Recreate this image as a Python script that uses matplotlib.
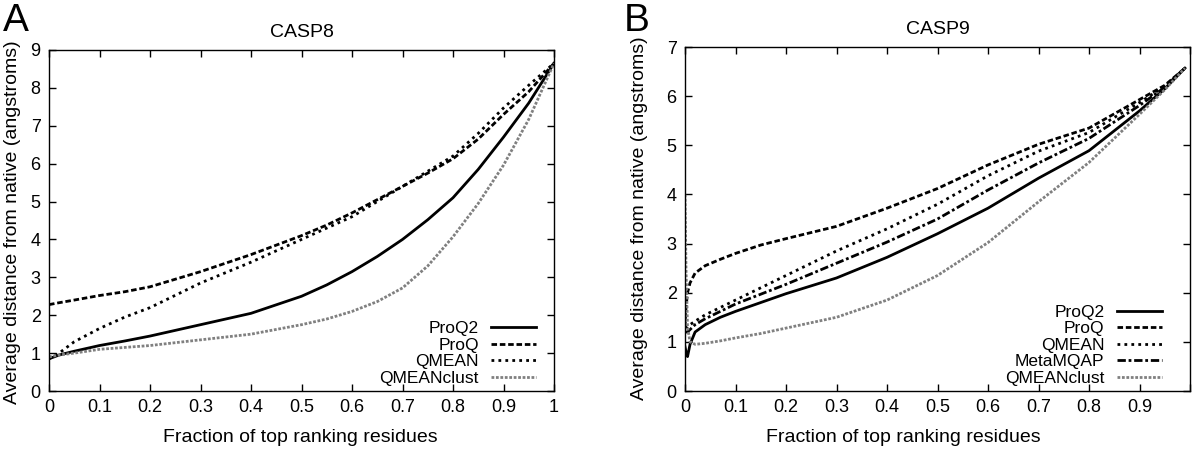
import matplotlib
matplotlib.use("Agg")
import matplotlib.pyplot as plt

plt.rcParams['font.family'] = ['Liberation Sans', 'DejaVu Sans']

# ---------------- Data: panel A (CASP8) ----------------
xa = [0, 0.02, 0.05, 0.1, 0.15, 0.2, 0.3, 0.4, 0.5, 0.55, 0.6, 0.65, 0.7, 0.75, 0.8, 0.85, 0.9, 0.95, 1.0]
a_proq2 = [0.85, 0.95, 1.05, 1.2, 1.32, 1.45, 1.75, 2.05, 2.5, 2.8, 3.15, 3.55, 4.0, 4.52, 5.1, 5.85, 6.7, 7.6, 8.65]
a_proq = [2.28, 2.33, 2.4, 2.52, 2.62, 2.75, 3.15, 3.6, 4.1, 4.38, 4.7, 5.05, 5.4, 5.75, 6.13, 6.65, 7.3, 7.9, 8.65]
a_qmean = [0.85, 1.0, 1.3, 1.65, 1.95, 2.2, 2.85, 3.4, 4.0, 4.3, 4.6, 5.0, 5.4, 5.8, 6.2, 6.8, 7.47, 8.07, 8.65]
a_qclust = [0.9, 0.95, 1.0, 1.1, 1.15, 1.2, 1.35, 1.5, 1.75, 1.9, 2.1, 2.36, 2.72, 3.3, 4.07, 4.95, 5.96, 7.17, 8.65]

# ---------------- Data: panel B (CASP9) ----------------
xb = [0, 0.002, 0.005, 0.01, 0.02, 0.04, 0.07, 0.1, 0.15, 0.2, 0.3, 0.4, 0.5, 0.6, 0.7, 0.8, 0.9, 0.95, 0.99]
b_proq2 = [0.9, 0.8, 0.7, 0.95, 1.2, 1.35, 1.5, 1.62, 1.8, 1.98, 2.3, 2.72, 3.2, 3.72, 4.33, 4.89, 5.70, 6.15, 6.57]
b_proq = [1.3, 1.7, 2.0, 2.2, 2.4, 2.55, 2.68, 2.8, 2.97, 3.1, 3.35, 3.72, 4.12, 4.6, 5.02, 5.35, 5.93, 6.22, 6.57]
b_qmean = [1.3, 1.3, 1.3, 1.35, 1.42, 1.55, 1.7, 1.85, 2.1, 2.35, 2.85, 3.3, 3.8, 4.38, 4.88, 5.26, 5.87, 6.2, 6.57]
b_metamqap = [1.2, 1.2, 1.2, 1.25, 1.35, 1.47, 1.62, 1.77, 1.97, 2.17, 2.6, 3.03, 3.5, 4.09, 4.64, 5.14, 5.81, 6.18, 6.57]
b_qclust = [4.0, 2.5, 1.3, 1.0, 0.95, 0.97, 1.02, 1.08, 1.17, 1.28, 1.5, 1.85, 2.35, 3.02, 3.85, 4.65, 5.63, 6.13, 6.57]

xticks = [0, 0.1, 0.2, 0.3, 0.4, 0.5, 0.6, 0.7, 0.8, 0.9, 1.0]
xticklabels_a = ['0', '0.1', '0.2', '0.3', '0.4', '0.5', '0.6', '0.7', '0.8', '0.9', '1']
xticklabels_b = ['0', '0.1', '0.2', '0.3', '0.4', '0.5', '0.6', '0.7', '0.8', '0.9', '']

styles = {
    'ProQ2': dict(color='black', lw=2.0, linestyle='-'),
    'ProQ': dict(color='black', lw=2.0, linestyle=(0, (2.0, 1.0))),
    'QMEAN': dict(color='black', lw=2.0, linestyle=(0, (1.0, 1.5))),
    'MetaMQAP': dict(color='black', lw=2.0, linestyle=(0, (3.0, 1.0, 1.0, 1.0))),
    'QMEANclust': dict(color='#808080', lw=2.0, linestyle=(0, (1.0, 0.6))),
}

fig = plt.figure(figsize=(12.0, 4.49), dpi=100)
axA = fig.add_axes([49/1200, 1-391/449, (554-49)/1200, (391-50)/449])
axB = fig.add_axes([685/1200, 1-391/449, (1190-685)/1200, (391-47)/449])

FS = 13
LFS = 14


def style_axes(ax):
    for s in ax.spines.values():
        s.set_linewidth(1.0)
        s.set_color('black')
    ax.tick_params(direction='in', length=5, width=1, top=True, right=True,
                   labelsize=FS, pad=6)


axA.plot(xa, a_proq2, label='ProQ2', **styles['ProQ2'])
axA.plot(xa, a_proq, label='ProQ', **styles['ProQ'])
axA.plot(xa, a_qmean, label='QMEAN', **styles['QMEAN'])
axA.plot(xa, a_qclust, label='QMEANclust', **styles['QMEANclust'])
axA.set_xlim(0, 1)
axA.set_ylim(0, 9)
axA.set_xticks(xticks)
axA.set_xticklabels(xticklabels_a)
axA.set_yticks(range(0, 10))
style_axes(axA)
axA.set_title('CASP8', fontsize=14, pad=9)
axA.legend(loc='lower right', bbox_to_anchor=(0.985, -0.015), frameon=False,
           markerfirst=False, fontsize=12.5, handlelength=2.6, handletextpad=0.7,
           labelspacing=0.08, borderaxespad=0.2)

axB.plot(xb, b_proq2, label='ProQ2', **styles['ProQ2'])
axB.plot(xb, b_proq, label='ProQ', **styles['ProQ'])
axB.plot(xb, b_qmean, label='QMEAN', **styles['QMEAN'])
axB.plot(xb, b_metamqap, label='MetaMQAP', **styles['MetaMQAP'])
axB.plot(xb, b_qclust, label='QMEANclust', **styles['QMEANclust'])
axB.set_xlim(0, 1)
axB.set_ylim(0, 7)
axB.set_xticks(xticks)
axB.set_xticklabels(xticklabels_b)
axB.set_yticks(range(0, 8))
style_axes(axB)
axB.set_title('CASP9', fontsize=14, pad=9)
axB.legend(loc='lower right', bbox_to_anchor=(0.965, -0.015), frameon=False,
           markerfirst=False, fontsize=12.5, handlelength=2.6, handletextpad=0.7,
           labelspacing=0.08, borderaxespad=0.2)

fig.text(300/1200, 1-437/449, 'Fraction of top ranking residues', ha='center', va='center', fontsize=LFS)
fig.text(903/1200, 1-437/449, 'Fraction of top ranking residues', ha='center', va='center', fontsize=LFS)
fig.text(13/1200, 1-222/449, 'Average distance from native (angstroms)', ha='center', va='center',
         rotation=90, fontsize=LFS)
fig.text(640/1200, 1-218/449, 'Average distance from native (angstroms)', ha='center', va='center',
         rotation=90, fontsize=LFS)
fig.text(3/1200, 1-21/449, 'A', ha='left', va='center', fontsize=28)
fig.text(624/1200, 1-21/449, 'B', ha='left', va='center', fontsize=28)

fig.savefig('out.png', dpi=100)
